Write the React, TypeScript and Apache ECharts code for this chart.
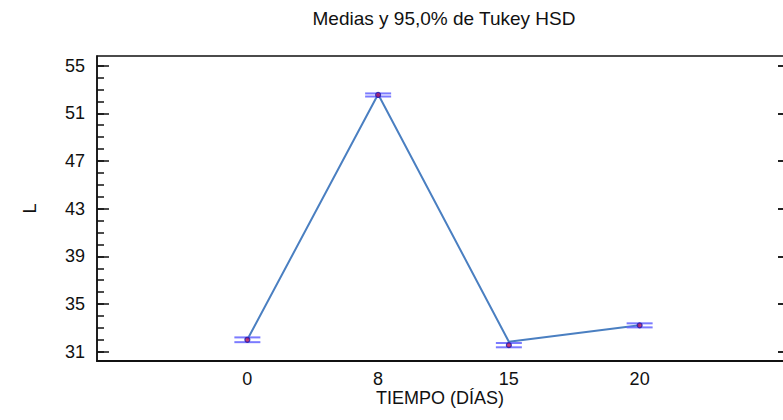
import React, { useEffect, useRef } from "react";
import * as echarts from "echarts";

const categories = ["0", "8", "15", "20"];
const means = [32.0, 52.54, 31.55, 33.21];
const lowerLimits = [31.8, 52.41, 31.37, 33.04];
const upperLimits = [32.2, 52.67, 31.73, 33.38];
const lineValues = [32.02, 52.6, 31.84, 33.21];
const majorTicks = [31, 35, 39, 43, 47, 51, 55];
const minorTicks = [31, 32, 33, 34, 35, 36, 37, 38, 39, 40, 41, 42, 43, 44, 45, 46, 47, 48, 49, 50, 51, 52, 53, 54, 55];
const titleText = "Medias y 95,0% de Tukey HSD";
const xName = "TIEMPO (DÍAS)";
const yName = "L";

const FONT = "Liberation Sans, Arial, sans-serif";
const Y_MIN = 30.22;
const Y_MAX = 55.81;

export default function App() {
  const ref = useRef<HTMLDivElement>(null);
  useEffect(() => {
    if (!ref.current) return;
    const chart = echarts.init(ref.current, undefined, { renderer: "svg" });
    const xIdx = categories.map((_, i) => i);
    const option: any = {
      animation: false,
      backgroundColor: "#ffffff",
      textStyle: { fontFamily: FONT },
      grid: {
        left: 97,
        top: 56,
        width: 693,
        height: 305,
        outerBoundsMode: "none",
        containLabel: false,
        show: true,
        borderColor: "#111",
        borderWidth: 1.5,
        backgroundColor: "transparent",
      },
      graphic: [
        {
          type: "text",
          x: 444,
          y: 18,
          style: {
            text: titleText,
            fontSize: 19,
            fontFamily: FONT,
            fill: "#111",
            align: "center",
            verticalAlign: "middle",
          },
        },
        {
          type: "text",
          x: 440,
          y: 398,
          style: {
            text: xName,
            fontSize: 18,
            fontFamily: FONT,
            fill: "#111",
            align: "center",
            verticalAlign: "middle",
          },
        },
      ],
      xAxis: {
        type: "value",
        min: -1.15,
        max: 4.15,
        axisLine: { show: true, onZero: false, lineStyle: { color: "#111", width: 2 } },
        axisTick: { show: false },
        splitLine: { show: false },
        axisLabel: {
          customValues: xIdx,
          formatter: (v: number) => categories[Math.round(v)] ?? "",
          fontSize: 18,
          fontFamily: FONT,
          color: "#111",
          margin: 9,
        },
      },
      yAxis: [
        {
          type: "value",
          min: Y_MIN,
          max: Y_MAX,
          position: "left",
          name: yName,
          nameLocation: "middle",
          nameGap: 58,
          nameTextStyle: { fontSize: 18, fontFamily: FONT, color: "#111" },
          axisLine: { show: true, onZero: false, lineStyle: { color: "#111", width: 1.5 } },
          axisTick: {
            show: true,
            inside: true,
            length: 12,
            customValues: majorTicks,
            lineStyle: { color: "#111", width: 1.5 },
          },
          axisLabel: {
            customValues: majorTicks,
            fontSize: 18,
            fontFamily: FONT,
            color: "#111",
            margin: 12,
          },
          splitLine: { show: false },
        },
        {
          type: "value",
          min: Y_MIN,
          max: Y_MAX,
          position: "left",
          axisLine: { show: false, onZero: false },
          axisTick: {
            show: true,
            inside: true,
            length: 7,
            customValues: minorTicks,
            lineStyle: { color: "#111", width: 1.5 },
          },
          axisLabel: { show: false },
          splitLine: { show: false },
        },
        {
          type: "value",
          min: Y_MIN,
          max: Y_MAX,
          position: "right",
          axisLine: { show: true, onZero: false, lineStyle: { color: "#111", width: 1.5 } },
          axisTick: {
            show: true,
            inside: true,
            length: 12,
            customValues: majorTicks,
            lineStyle: { color: "#222", width: 2 },
          },
          axisLabel: { show: false },
          splitLine: { show: false },
        },
      ],
      series: [
        {
          type: "line",
          data: xIdx.map((i) => [i, lineValues[i]]),
          symbol: "none",
          lineStyle: { color: "#4a7fc1", width: 2 },
          z: 2,
        },
        {
          type: "custom",
          data: xIdx.map((i) => [i, lowerLimits[i], upperLimits[i]]),
          encode: { x: 0, y: [1, 2] },
          z: 3,
          renderItem: (params: any, api: any) => {
            const x = api.value(0);
            const lo = api.coord([x, api.value(1)]);
            const hi = api.coord([x, api.value(2)]);
            const hw = 13;
            const style = { stroke: "#6464ff", lineWidth: 2, opacity: 0.85 };
            return {
              type: "group",
              children: [
                { type: "line", shape: { x1: lo[0] - hw, y1: lo[1], x2: lo[0] + hw, y2: lo[1] }, style },
                { type: "line", shape: { x1: hi[0] - hw, y1: hi[1], x2: hi[0] + hw, y2: hi[1] }, style },
              ],
            };
          },
        },
        {
          type: "scatter",
          data: xIdx.map((i) => [i, means[i]]),
          symbol: "circle",
          symbolSize: 5,
          itemStyle: { color: "#b0105a", borderColor: "#1a1ab0", borderWidth: 1.2 },
          z: 4,
        },
      ],
    };
    chart.setOption(option);
    return () => chart.dispose();
  }, []);
  return (
    <div
      ref={ref}
      style={{ position: "fixed", left: 0, top: 0, width: 783, height: 420 }}
    />
  );
}
